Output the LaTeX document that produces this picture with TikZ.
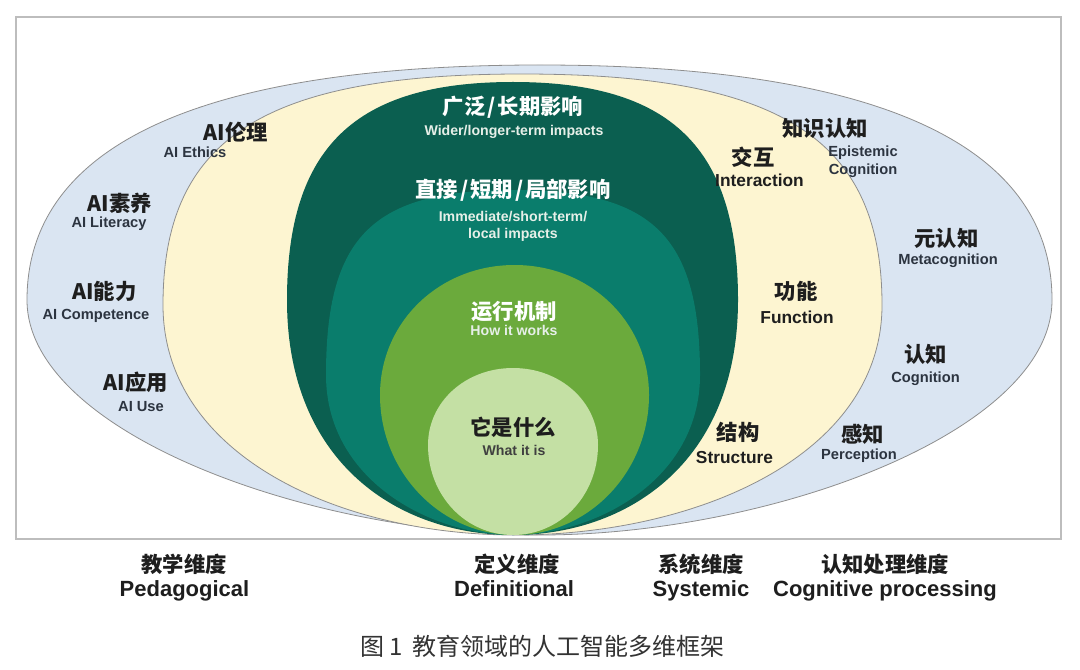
\documentclass[tikz,border=0pt]{standalone}
\usepackage{fontspec}
\setmainfont{Liberation Sans}
\newfontfamily\cjk{Noto Sans CJK SC}
\definecolor{bluefill}{HTML}{DAE5F2}
\definecolor{yellowfill}{HTML}{FDF5D1}
\definecolor{darkgreen}{HTML}{0B5F50}
\definecolor{tealgreen}{HTML}{0A7D6C}
\definecolor{midgreen}{HTML}{6BAA3C}
\definecolor{lightgreen}{HTML}{C4E0A4}
\definecolor{edgegray}{HTML}{8E8E8E}
\definecolor{framegray}{HTML}{BDBDBD}
\definecolor{ink}{HTML}{1E1E1E}
\definecolor{inkblue}{HTML}{2C3440}
\definecolor{capgray}{HTML}{333333}
\definecolor{paleink}{HTML}{E6EFE8}
\newcommand{\slsep}{\kern1.5pt/\kern1.5pt}
\tikzset{
  lbl/.style={inner sep=0pt, anchor=base},
  cn/.style={lbl, font=\cjk\bfseries\fontsize{16}{18}\selectfont, text=ink},
  cnw/.style={cn, text=white},
  en/.style={lbl, font=\bfseries\fontsize{11}{13}\selectfont, text=inkblue},
  ensys/.style={lbl, font=\bfseries\fontsize{13}{15}\selectfont, text=ink},
  enw/.style={lbl, font=\bfseries\fontsize{10.6}{12}\selectfont, text=paleink},
  bottomcn/.style={lbl, font=\cjk\bfseries\fontsize{16}{18}\selectfont, text=ink},
  bottomen/.style={lbl, font=\bfseries\fontsize{16.5}{19}\selectfont, text=ink},
  captxt/.style={lbl, font=\cjk\fontsize{18}{20}\selectfont, text=capgray},
  rim/.style={draw=edgegray, line width=0.6pt}
}
\begin{document}
\begin{tikzpicture}[x=0.75pt, y=-0.75pt]
\useasboundingbox[fill=white] (0,0) rectangle (1080,670);
% frame
\draw[framegray, line width=1.6pt] (16,17) rectangle (1061,539);
% outer blue shape
\fill[bluefill, rim] (27,300) .. controls (27,145) and (201,65) .. (540,65)
  .. controls (878,65) and (1052,145) .. (1052,300)
  .. controls (1052,432) and (770,535) .. (540,535)
  .. controls (309,535) and (27,432) .. (27,300) -- cycle;
% yellow shape
\fill[yellowfill, rim] (163,305) .. controls (163,139) and (263,74) .. (522,74)
  .. controls (781,74) and (882,139) .. (882,305)
  .. controls (882,455) and (698,535) .. (515,535)
  .. controls (339,535) and (163,455) .. (163,305) -- cycle;
% dark green
\fill[darkgreen] (287,300) .. controls (287,147.4) and (354.8,82) .. (513,82)
  .. controls (670.5,82) and (738,147.4) .. (738,300)
  .. controls (738,464.5) and (625.5,535) .. (513,535)
  .. controls (400,535) and (287,464.5) .. (287,300) -- cycle;
% teal
\fill[tealgreen] (326,375) .. controls (326,236.3) and (372.8,190) .. (513,190)
  .. controls (653.3,190) and (700,236.3) .. (700,375)
  .. controls (700,479) and (597,535) .. (513,535)
  .. controls (429,535) and (326,479) .. (326,375) -- cycle;
% middle green
\fill[midgreen] (380,395) .. controls (380,322.2) and (439.2,265) .. (514.5,265)
  .. controls (589.8,265) and (649,322.2) .. (649,395)
  .. controls (649,472) and (588.5,535) .. (514.5,535)
  .. controls (440.5,535) and (380,472) .. (380,395) -- cycle;
% light green
\fill[lightgreen] (428,445) .. controls (428,402) and (465.4,368) .. (513,368)
  .. controls (560.6,368) and (598,402) .. (598,445)
  .. controls (598,495.4) and (560.6,535) .. (513,535)
  .. controls (465.4,535) and (428,495.4) .. (428,445) -- cycle;

% inner labels
\node[cnw] (wide) at (513,115) {广泛\slsep 长期影响};
\node[enw] (wideen) at (514,135.5) {Wider/longer-term impacts};
\node[cnw] (direct) at (513,198) {直接\slsep 短期\slsep 局部影响};
\node[enw] (directen1) at (513,221) {Immediate/short-term/};
\node[enw] (directen2) at (513,238.5) {local impacts};
\node[cnw] (how) at (514,319) {运行机制};
\node[enw] (howen) at (514,335) {How it works};
\node[cn] (what) at (513,435.5) {它是什么};
\node[enw, text=ink!85] (whaten) at (514,455.5) {What it is};

% pedagogical labels
\node[cn] (ethics) at (236,141) {AI伦理};
\node[en] (ethicsen) at (195,158) {AI Ethics};
\node[cn] (literacy) at (120,211.5) {AI素养};
\node[en] (literacyen) at (109,227.5) {AI Literacy};
\node[cn] (competence) at (104.5,299.5) {AI能力};
\node[en] (competenceen) at (96,319) {AI Competence};
\node[cn] (use) at (136,390) {AI应用};
\node[en] (useen) at (141,411) {AI Use};

% systemic labels
\node[cn] (interaction) at (753,166) {交互};
\node[ensys] (interactionen) at (759.5,187) {Interaction};
\node[cn] (function) at (796,299) {功能};
\node[ensys] (functionen) at (797,323) {Function};
\node[cn] (structure) at (738,440.5) {结构};
\node[ensys] (structureen) at (734.5,463) {Structure};

% cognitive labels
\node[cn] (epist) at (825,137) {知识认知};
\node[en] (epist1) at (863,157) {Epistemic};
\node[en] (epist2) at (863,175) {Cognition};
\node[cn] (meta) at (946.5,246.5) {元认知};
\node[en] (metaen) at (948,264) {Metacognition};
\node[cn] (cog) at (925.5,362) {认知};
\node[en] (cogen) at (925.5,382) {Cognition};
\node[cn] (perc) at (862.5,442) {感知};
\node[en] (percen) at (859,459) {Perception};

% bottom dimension labels
\node[bottomcn] (dim1) at (184,572) {教学维度};
\node[bottomen] (dim1en) at (184.5,596) {Pedagogical};
\node[bottomcn] (dim2) at (517,572) {定义维度};
\node[bottomen] (dim2en) at (514,596) {Definitional};
\node[bottomcn] (dim3) at (701,572) {系统维度};
\node[bottomen] (dim3en) at (701,596) {Systemic};
\node[bottomcn] (dim4) at (885,572) {认知处理维度};
\node[bottomen] (dim4en) at (885,596) {Cognitive processing};

% caption
\node[captxt] (caption) at (542.6,655) {图 1\, 教育领域的人工智能多维框架};
\end{tikzpicture}
\end{document}
